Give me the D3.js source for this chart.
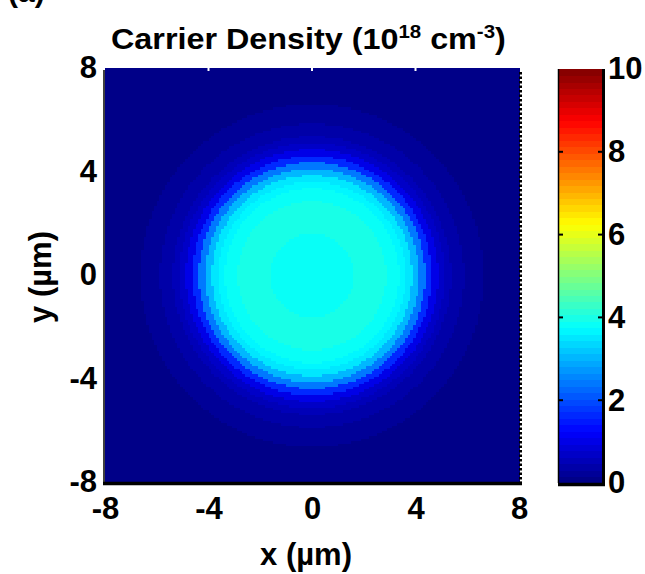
<!DOCTYPE html>
<html>
<head>
<meta charset="utf-8">
<script src="https://cdn.jsdelivr.net/npm/d3@7"></script>
<style>
  body { margin: 0; background: #fff; }
  text { font-family: "Liberation Sans", Arial, sans-serif; font-weight: bold; fill: #000; }
</style>
</head>
<body>
<div id="chart"></div>
<script>
// ticks
const xTicks = [-8, -4, 0, 4, 8];
const yTicks = [-8, -4, 0, 4, 8];
const cbarTicks = [0, 2, 4, 6, 8, 10];

// radial profile of the carrier density (um, 1e18 cm^-3)
const profileRadius  = [0, 0.25, 0.5, 0.75, 1.0, 1.25, 1.5, 1.75, 2.0, 2.25, 2.5, 2.75, 3.0, 3.25, 3.5, 3.75,
                        4.0, 4.25, 4.5, 4.75, 5.0, 5.25, 5.5, 5.75, 6.0, 6.25, 6.5, 6.75, 7.0, 7.25, 12];
const profileDensity = [3.75, 3.75, 3.76, 3.77, 3.78, 3.8, 3.9, 3.95, 4.0, 4.0, 4.0, 3.95, 3.85, 3.75, 3.7, 3.5,
                        3.1, 2.4, 1.7, 1.0, 0.75, 0.5, 0.4, 0.35, 0.25, 0.2, 0.2, 0.15, 0.05, 0, 0];

const svgWidth = 645, svgHeight = 574;
const plot = { left: 105, right: 519, top: 68, bottom: 482 };
const cbar = { left: 559, right: 602, top: 69, bottom: 483 };
const gridStep = 0.1;

const svg = d3.select("#chart").append("svg")
  .attr("width", svgWidth)
  .attr("height", svgHeight);

const x = d3.scaleLinear().domain([-8, 8]).range([plot.left, plot.right]);
const y = d3.scaleLinear().domain([-8, 8]).range([plot.bottom, plot.top]);

// MATLAB-like jet, 64 levels
const jet = d3.scaleLinear()
  .domain([0, 1.25, 3.75, 6.25, 8.75, 10])
  .range(["#000080", "#0000ff", "#00ffff", "#ffff00", "#ff0000", "#800000"])
  .clamp(true);
const colour = d3.scaleQuantize()
  .domain([0, 10])
  .range(d3.range(64).map(i => jet((i + 0.5) / 64 * 10)));

// build the grid from the radial profile
const nearest = d3.bisector(d => d).center;
const cells = [];
const n = Math.round(16 / gridStep);
for (let i = 0; i < n; i++) {
  for (let j = 0; j < n; j++) {
    const cx = -8 + (i + 0.5) * gridStep;
    const cy = -8 + (j + 0.5) * gridStep;
    const r = Math.hypot(cx, cy);
    cells.push({ x0: cx - gridStep / 2, y0: cy - gridStep / 2, v: profileDensity[nearest(profileRadius, r)] });
  }
}

const cellW = x(gridStep) - x(0);
svg.append("g")
  .attr("shape-rendering", "crispEdges")
  .selectAll("rect")
  .data(cells).enter()
  .append("rect")
  .attr("x", d => x(d.x0))
  .attr("y", d => y(d.y0 + gridStep))
  .attr("width", cellW + 0.6)
  .attr("height", cellW + 0.6)
  .attr("fill", d => colour(d.v));

// frame of the map
svg.append("line")
  .attr("x1", plot.left - 1).attr("x2", plot.left - 1)
  .attr("y1", plot.top + 2).attr("y2", plot.bottom)
  .attr("stroke", "#000").attr("stroke-width", 1.5);
svg.append("line")
  .attr("x1", plot.left - 2).attr("x2", plot.right + 3)
  .attr("y1", plot.bottom + 1.5).attr("y2", plot.bottom + 1.5)
  .attr("stroke", "#000").attr("stroke-width", 3.5);
svg.append("line")
  .attr("x1", plot.right + 1.5).attr("x2", plot.right + 1.5)
  .attr("y1", plot.top + 4).attr("y2", plot.bottom)
  .attr("stroke", "#000").attr("stroke-width", 3)
  .attr("stroke-dasharray", "2.5,2");

// white ticks along the top edge
svg.append("g").selectAll("line")
  .data(xTicks.slice(1, -1)).enter()
  .append("line")
  .attr("x1", d => x(d)).attr("x2", d => x(d))
  .attr("y1", plot.top).attr("y2", plot.top + 3)
  .attr("stroke", "#fff").attr("stroke-width", 2);

// tick labels
const xAxis = svg.append("g")
  .attr("transform", `translate(0, ${plot.bottom})`)
  .call(d3.axisBottom(x).tickValues(xTicks).tickSize(0).tickPadding(15).tickFormat(d => String(d)));
const yAxis = svg.append("g")
  .attr("transform", `translate(${plot.left}, 0)`)
  .call(d3.axisLeft(y).tickValues(yTicks).tickSize(0).tickPadding(8).tickFormat(d => String(d)));
[xAxis, yAxis].forEach(a => {
  a.select(".domain").remove();
  a.selectAll("text").style("font-size", "31px").attr("font-family", null).attr("fill", "#000");
  a.attr("font-family", null).attr("font-size", null);
});

// axis titles
svg.append("text")
  .attr("x", 306).attr("y", 565)
  .attr("text-anchor", "middle")
  .style("font-size", "31px")
  .text("x (\u00b5m)");
svg.append("text")
  .attr("transform", "translate(51, 277) rotate(-90)")
  .attr("text-anchor", "middle")
  .style("font-size", "31px")
  .text("y (\u00b5m)");

// title
const title = svg.append("text")
  .attr("text-anchor", "start")
  .style("font-size", "30px");
title.append("tspan").text("Carrier Density (10");
title.append("tspan").attr("dy", -11).style("font-size", "19px").text("18");
title.append("tspan").attr("dy", 11).text(" cm");
title.append("tspan").attr("dy", -11).style("font-size", "19px").text("-3");
title.append("tspan").attr("dy", 11).text(")");
const tw = title.node().getComputedTextLength();
title.attr("transform", `translate(111, 49) scale(${395 / tw}, 1)`);

// partly cut "(a)" label at the top left
svg.append("text")
  .attr("x", 8).attr("y", 2)
  .style("font-size", "30px")
  .text("(a)");

// colour bar
const cb = d3.scaleLinear().domain([0, 10]).range([cbar.bottom, cbar.top]);
const levels = colour.range();
const step = 10 / levels.length;
svg.append("g")
  .attr("shape-rendering", "crispEdges")
  .selectAll("rect")
  .data(levels).enter()
  .append("rect")
  .attr("x", cbar.left)
  .attr("y", (d, i) => cb((i + 1) * step))
  .attr("width", cbar.right - cbar.left)
  .attr("height", cb(0) - cb(step) + 0.6)
  .attr("fill", d => d);

svg.append("line")
  .attr("x1", cbar.left - 0.5).attr("x2", cbar.left - 0.5)
  .attr("y1", cbar.top).attr("y2", cbar.bottom)
  .attr("stroke", "#000").attr("stroke-width", 1.5);
svg.append("line")
  .attr("x1", cbar.right + 1.5).attr("x2", cbar.right + 1.5)
  .attr("y1", cbar.top).attr("y2", cbar.bottom + 3)
  .attr("stroke", "#000").attr("stroke-width", 3);
svg.append("line")
  .attr("x1", cbar.left - 1).attr("x2", cbar.right + 3)
  .attr("y1", cbar.bottom + 1.5).attr("y2", cbar.bottom + 1.5)
  .attr("stroke", "#000").attr("stroke-width", 3.5);

const inner = cbarTicks.filter(d => d > 0 && d < 10);
svg.append("g").selectAll("line")
  .data(inner).enter()
  .append("line")
  .attr("x1", cbar.left).attr("x2", cbar.left + 4)
  .attr("y1", d => cb(d)).attr("y2", d => cb(d))
  .attr("stroke", "#000").attr("stroke-width", 2);
svg.append("g").selectAll("line")
  .data(inner).enter()
  .append("line")
  .attr("x1", cbar.right - 4).attr("x2", cbar.right)
  .attr("y1", d => cb(d)).attr("y2", d => cb(d))
  .attr("stroke", "#000").attr("stroke-width", 2);

const cAxis = svg.append("g")
  .attr("transform", `translate(${cbar.right}, 0)`)
  .call(d3.axisRight(cb).tickValues(cbarTicks).tickSize(0).tickPadding(6).tickFormat(d => String(d)));
cAxis.select(".domain").remove();
cAxis.attr("font-family", null).attr("font-size", null);
cAxis.selectAll("text").style("font-size", "31px").attr("fill", "#000");
</script>
</body>
</html>
